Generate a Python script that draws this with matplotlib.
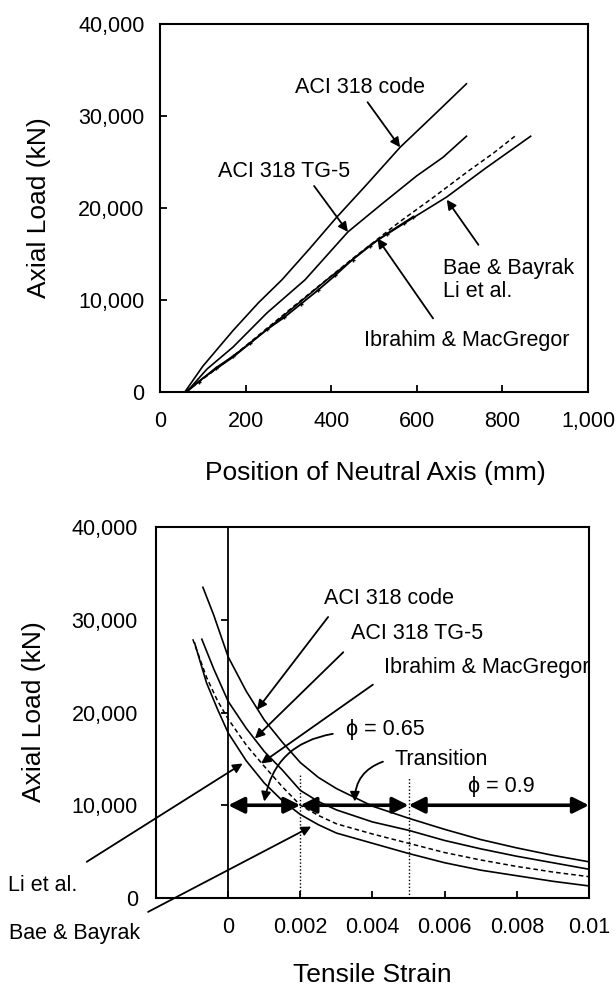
import matplotlib.pyplot as plt
from matplotlib.ticker import FuncFormatter

plt.rcParams['font.family'] = ['Liberation Sans', 'DejaVu Sans']

# --- top chart: axial load vs position of neutral axis (mm) ---
code_na = [58, 100, 171, 230, 285, 350, 411, 480, 561, 640, 716]
code_na_load = [0, 2800, 6700, 9700, 12200, 15600, 18900, 22400, 26600, 30100, 33500]
tg5_na = [62, 110, 171, 250, 339, 439, 520, 600, 661, 716]
tg5_na_load = [0, 2500, 4900, 8600, 12200, 17400, 20500, 23500, 25500, 27800]
bae_na = [60, 100, 171, 250, 320, 390, 450, 508, 590, 670, 760, 866]
bae_na_load = [0, 1500, 3800, 6800, 9500, 12200, 14400, 16500, 18900, 21200, 24300, 27800]
li_na = [60, 171, 320, 450, 560, 640, 720, 780, 829]
li_na_load = [0, 3900, 9600, 14500, 18500, 21200, 24000, 26000, 27800]
ibr_na = [62, 90, 130, 171, 210, 250, 290, 330, 370, 410, 450, 490, 530, 570, 590]
ibr_na_load = [0, 1100, 2600, 3900, 5300, 6800, 8100, 9600, 11100, 12700, 14400,
               15900, 17200, 18400, 19000]

# --- bottom chart: axial load vs tensile strain ---
code_eps = [-0.0007, -0.0004, 0, 0.0005, 0.001, 0.0015, 0.002, 0.0025, 0.003,
            0.004, 0.005, 0.006, 0.007, 0.008, 0.009, 0.01]
code_eps_load = [33500, 30500, 26000, 22300, 19200, 16800, 14600, 13000, 11800,
                 9900, 8600, 7400, 6300, 5400, 4600, 3900]
tg5_eps = [-0.00073, -0.0004, 0, 0.0005, 0.001, 0.0015, 0.002, 0.0025, 0.003,
           0.004, 0.005, 0.006, 0.007, 0.008, 0.009, 0.01]
tg5_eps_load = [27900, 24700, 21200, 18300, 15800, 13800, 11600, 10400, 9500,
                8200, 7300, 6200, 5300, 4500, 3800, 3100]
ibr_eps = [-0.00098, -0.0006, -0.0003, 0, 0.0005, 0.001, 0.0015, 0.002, 0.0025,
           0.003, 0.004, 0.005, 0.006, 0.007, 0.008, 0.009, 0.01]
ibr_eps_load = [27900, 23800, 21300, 19300, 16500, 14200, 12000, 10000, 8900,
                8000, 6900, 5900, 4900, 4100, 3400, 2800, 2300]
bae_eps = [-0.00093, -0.0006, -0.0003, 0, 0.0005, 0.001, 0.0015, 0.002, 0.0025,
           0.003, 0.004, 0.005, 0.006, 0.007, 0.008, 0.009, 0.01]
bae_eps_load = [27500, 23200, 20400, 17800, 14800, 12400, 10500, 9000, 7900,
                7000, 5900, 4800, 3800, 3000, 2400, 1800, 1300]

strain_ticks = [0, 0.002, 0.004, 0.006, 0.008, 0.01]
strain_labels = ['0', '0.002', '0.004', '0.006', '0.008', '0.01']
zones = [(0, 0.002), (0.002, 0.005), (0.005, 0.01)]
zone_load = 10000

FS = 15.5
comma = FuncFormatter(lambda v, p: f'{v:,.0f}')

fig = plt.figure(figsize=(6.16, 9.93), dpi=100)

# ================= top =================
ax1 = fig.add_axes([160/616, 1-392/993, 428/616, 368/993])
ax1.plot(code_na, code_na_load, color='k', lw=1.2)
ax1.plot(tg5_na, tg5_na_load, color='k', lw=1.2)
ax1.plot(bae_na, bae_na_load, color='k', lw=1.2)
ax1.plot(li_na, li_na_load, color='k', lw=1.1, ls=(0, (3, 2)))
ax1.plot(ibr_na, ibr_na_load, color='k', lw=1.3, marker='+', ms=3, mew=1)
ax1.set_xlim(0, 1000)
ax1.set_ylim(0, 40000)
ax1.set_xticks([0, 200, 400, 600, 800, 1000])
ax1.set_yticks([0, 10000, 20000, 30000, 40000])
ax1.xaxis.set_major_formatter(comma)
ax1.yaxis.set_major_formatter(comma)
ax1.tick_params(direction='in', length=5, width=1.3, labelsize=FS)
ax1.tick_params(axis='x', pad=14)
ax1.tick_params(axis='y', pad=11)
for sp in ax1.spines.values():
    sp.set_linewidth(1.5)

arr = dict(arrowstyle='-|>', color='k', lw=1.3, mutation_scale=14, shrinkA=0, shrinkB=0)
ax1.text(467, 33100, 'ACI 318 code', fontsize=FS, ha='center', va='center')
ax1.annotate('', xy=(561, 26600), xytext=(485, 31500), arrowprops=arr)
ax1.text(291, 24000, 'ACI 318 TG-5', fontsize=FS, ha='center', va='center')
ax1.annotate('', xy=(439, 17400), xytext=(360, 22400), arrowprops=arr)
ax1.text(661, 13400, 'Bae & Bayrak', fontsize=FS, ha='left', va='center')
ax1.text(661, 10900, 'Li et al.', fontsize=FS, ha='left', va='center')
ax1.annotate('', xy=(670, 20900), xytext=(744, 16000), arrowprops=arr)
ax1.text(717, 5650, 'Ibrahim & MacGregor', fontsize=FS, ha='center', va='center')
ax1.annotate('', xy=(508, 16700), xytext=(638, 8000), arrowprops=arr)

fig.text(39/616, 1-208/993, 'Axial Load (kN)', fontsize=19, rotation=90,
         ha='center', va='center')
fig.text(375/616, 1-473/993, 'Position of Neutral Axis (mm)', fontsize=19,
         ha='center', va='center')

# ================= bottom =================
ax2 = fig.add_axes([156/616, 1-898/993, 433/616, 371/993])
ax2.plot(code_eps, code_eps_load, color='k', lw=1.2)
ax2.plot(tg5_eps, tg5_eps_load, color='k', lw=1.2)
ax2.plot(ibr_eps, ibr_eps_load, color='k', lw=1.1, ls=(0, (3, 2)))
ax2.plot(bae_eps, bae_eps_load, color='k', lw=1.2)
ax2.set_xlim(-0.002, 0.01)
ax2.set_ylim(0, 40000)
ax2.set_xticks(strain_ticks)
ax2.set_xticklabels(strain_labels)
ax2.set_yticks([0, 10000, 20000, 30000, 40000])
ax2.yaxis.set_major_formatter(comma)
ax2.tick_params(direction='in', labelsize=FS)
ax2.tick_params(axis='x', length=5, width=1.3, pad=14)
ax2.tick_params(axis='y', length=0, pad=13)
for sp in ax2.spines.values():
    sp.set_linewidth(1.5)

# vertical axis at zero strain
zero_ax = ax2.secondary_yaxis(2/12)
zero_ax.set_yticks([10000, 20000, 30000])
zero_ax.tick_params(direction='in', length=5, width=1.3, labelleft=False,
                    labelright=False, right=True, left=False)
zero_ax.spines['left'].set_linewidth(1.3)

# dotted limits
ax2.vlines(0.002, 0, 13500, colors='k', lw=1.0, linestyles=(0, (1, 1.5)))
ax2.vlines(0.005, 0, 13000, colors='k', lw=1.0, linestyles=(0, (1, 1.5)))

dbl = dict(arrowstyle='<|-|>', color='k', lw=2.6, mutation_scale=24,
           shrinkA=0, shrinkB=0)
for a, b in zones:
    ax2.annotate('', xy=(b, zone_load), xytext=(a, zone_load), arrowprops=dbl)

ax2.text(0.00446, 32300, 'ACI 318 code', fontsize=FS, ha='center', va='center')
ax2.annotate('', xy=(0.0008, 20300), xytext=(0.00277, 30300), arrowprops=arr)
ax2.text(0.00523, 28500, 'ACI 318 TG-5', fontsize=FS, ha='center', va='center')
ax2.annotate('', xy=(0.00074, 17200), xytext=(0.00319, 26500), arrowprops=arr)
ax2.text(0.00717, 24900, 'Ibrahim & MacGregor', fontsize=FS, ha='center', va='center')
ax2.annotate('', xy=(0.00091, 14500), xytext=(0.00401, 23000), arrowprops=arr)
ax2.text(0.00435, 18200, 'ϕ = 0.65', fontsize=FS, ha='center', va='center')
ax2.annotate('', xy=(0.001, 10400), xytext=(0.0029, 17700),
             arrowprops=dict(arr, connectionstyle='arc3,rad=0.35'))
ax2.text(0.0059, 14900, 'Transition', fontsize=FS, ha='center', va='center')
ax2.annotate('', xy=(0.00351, 10400), xytext=(0.00429, 14700),
             arrowprops=dict(arr, connectionstyle='arc3,rad=0.35'))
ax2.text(0.00756, 12000, 'ϕ = 0.9', fontsize=FS, ha='center', va='center')

# labels pointing from outside the plot
ax2.text(-0.00514, 1400, 'Li et al.', fontsize=FS, ha='center', va='center')
ax2.annotate('', xy=(0.0004, 14500), xytext=(-0.00392, 3900), arrowprops=arr,
             annotation_clip=False)
ax2.text(-0.00425, -3800, 'Bae & Bayrak', fontsize=FS, ha='center', va='center')
ax2.annotate('', xy=(0.0023, 7700), xytext=(-0.00222, -1500), arrowprops=arr,
             annotation_clip=False)

fig.text(34/616, 1-712/993, 'Axial Load (kN)', fontsize=19, rotation=90,
         ha='center', va='center')
fig.text(372/616, 1-975/993, 'Tensile Strain', fontsize=19,
         ha='center', va='center')

fig.savefig('out.png', dpi=100)
